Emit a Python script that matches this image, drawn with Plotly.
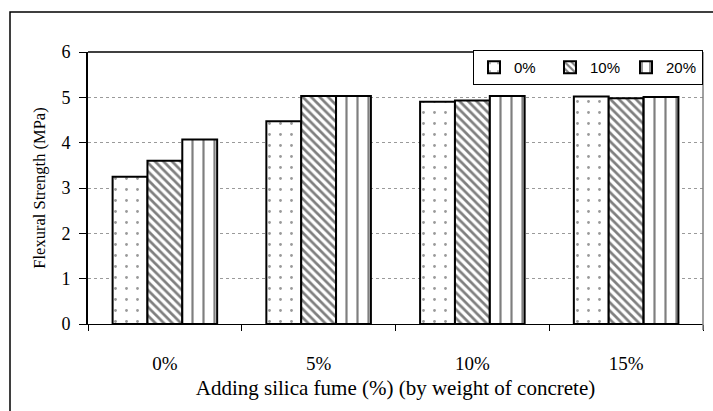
import plotly.graph_objects as go

# Flexural strength of concrete vs. silica fume addition, for three fibre levels
categories = ["0%", "5%", "10%", "15%"]
series_names = ["0%", "10%", "20%"]
strength_0 = [3.25, 4.47, 4.90, 5.02]
strength_10 = [3.60, 5.03, 4.93, 4.98]
strength_20 = [4.07, 5.03, 5.03, 5.01]
y_ticks = [0, 1, 2, 3, 4, 5, 6]

serif = "Liberation Serif, Times New Roman, serif"
sans = "Liberation Sans, Arial, sans-serif"

patterns = [
    dict(shape=".", size=11, solidity=0.05, fgcolor="#333333", bgcolor="white"),
    dict(shape="\\", size=6, solidity=0.45, fgcolor="black", bgcolor="white"),
    dict(shape="|", size=11, solidity=0.2, fgcolor="black", bgcolor="white"),
]

fig = go.Figure()
for name, vals, pat in zip(series_names, [strength_0, strength_10, strength_20], patterns):
    fig.add_trace(go.Bar(
        x=categories, y=vals, name=name,
        marker=dict(color="white", pattern=pat, line=dict(color="black", width=2)),
    ))

W, H = 713, 411
L, R, T, B = 88, 10, 52, 87
pw, ph = W - L - R, H - T - B

def px(x):
    return (x - L) / pw

def py(y):
    return (H - B - y) / ph

fig.update_layout(
    width=W, height=H,
    margin=dict(l=L, r=R, t=T, b=B, autoexpand=False),
    paper_bgcolor="white", plot_bgcolor="white",
    barmode="group", bargap=0.32, bargroupgap=0,
    showlegend=True,
    legend=dict(
        orientation="h", x=1.0, y=py(50), xanchor="right", yanchor="top",
        bgcolor="white", bordercolor="black", borderwidth=1,
        font=dict(family=sans, size=15, color="black"),
        itemwidth=30, traceorder="normal",
        entrywidth=31, entrywidthmode="pixels",
    ),
    xaxis=dict(
        type="category", showgrid=False, showline=True, linecolor="black", linewidth=1,
        mirror=False, ticks="outside", tickson="boundaries", ticklen=6, tickcolor="black",
        tickfont=dict(family=serif, size=19, color="black"), ticklabelstandoff=22,
        title=dict(text="Adding silica fume (%) (by weight of concrete)",
                   font=dict(family=serif, size=21, color="black"), standoff=7),
    ),
    yaxis=dict(
        range=[0, 6], tickvals=y_ticks, showline=True, linecolor="black", linewidth=2,
        ticks="outside", ticklen=7, tickcolor="black",
        showgrid=True, gridcolor="#9a9a9a", griddash="dot", gridwidth=1,
        zeroline=False,
        tickfont=dict(family=serif, size=18, color="black"), ticklabelstandoff=5,
        title=dict(text="Flexural Strength (MPa)",
                   font=dict(family=serif, size=16.5, color="black"), standoff=12),
    ),
    shapes=[
        # top edge of plot area
        dict(type="line", xref="paper", yref="paper", x0=0, x1=1, y0=1, y1=1,
             line=dict(color="black", width=1.5)),
        # right edge of plot area
        dict(type="line", xref="paper", yref="paper", x0=1, x1=1, y0=py(330), y1=1,
             line=dict(color="#808080", width=1.5)),
        # outer chart frame
        dict(type="rect", xref="paper", yref="paper",
             x0=px(10), x1=px(730), y0=py(430), y1=py(12),
             line=dict(color="black", width=1.5), fillcolor="rgba(0,0,0,0)", layer="below"),
    ],
)

fig.write_html("out.html")
